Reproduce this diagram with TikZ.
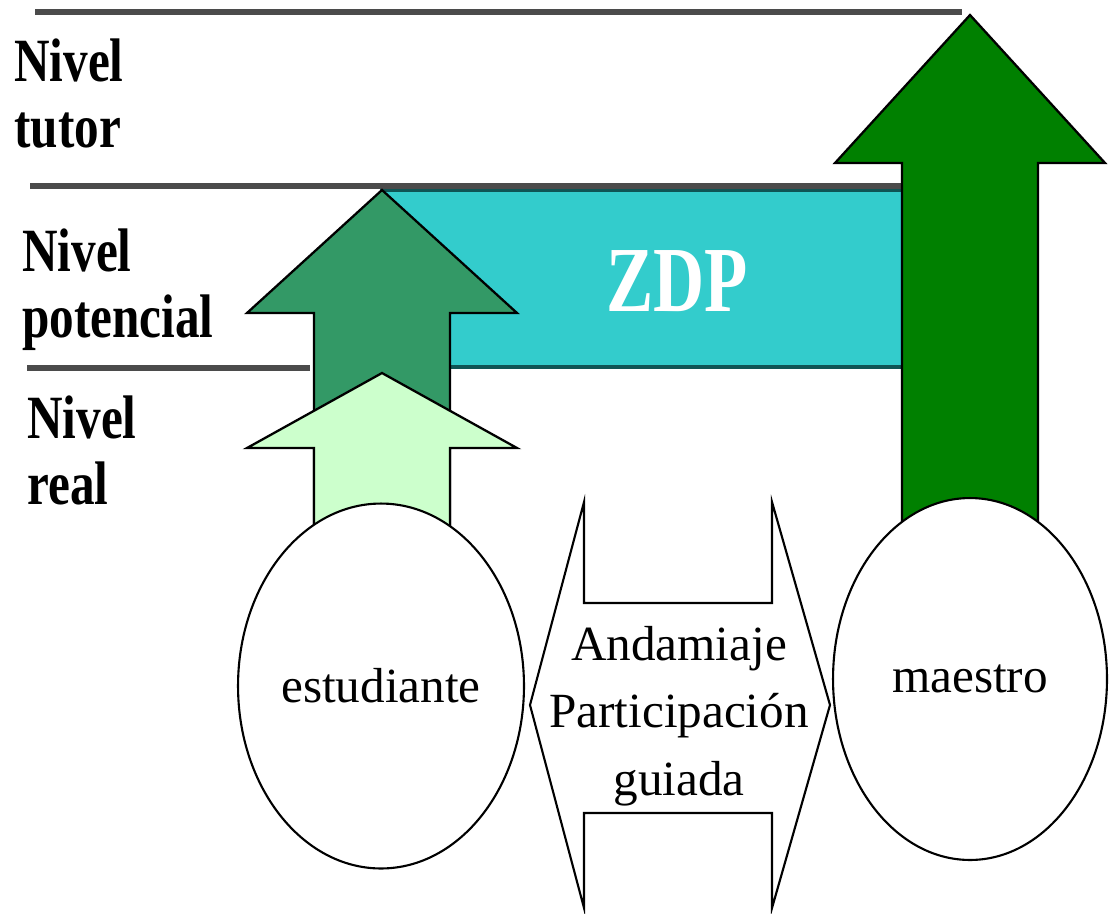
\documentclass[tikz,border=0pt]{standalone}
\usepackage{fontspec}
\setmainfont{Liberation Serif}
\newfontfamily\nivelfont[FakeStretch=0.8]{Liberation Serif}
\newfontfamily\zdpfont[FakeStretch=0.76]{Liberation Serif}
\usetikzlibrary{shapes.geometric}

\definecolor{zdpcyan}{RGB}{51,204,204}
\definecolor{zdpedge}{RGB}{15,85,85}
\definecolor{potgreen}{RGB}{51,153,102}
\definecolor{realgreen}{RGB}{204,255,204}
\definecolor{tutgreen}{RGB}{0,128,0}
\definecolor{levelgray}{RGB}{75,75,75}

\begin{document}
\begin{tikzpicture}[x=0.02cm,y=-0.02cm,
  nivel/.style={anchor=north west,inner sep=0pt,align=left,
    font={\nivelfont\bfseries\fontsize{35}{38}\selectfont}},
  nivelline/.style={levelgray,line width=3.4pt},
  zdp/.style={fill=zdpcyan,draw=zdpedge,line width=2.2pt},
  zdptext/.style={white,inner sep=0pt,font={\zdpfont\bfseries\fontsize{53}{53}\selectfont}},
  bloque/.style={draw=black,line width=1.3pt,line join=miter},
  persona/.style={ellipse,draw,fill=white,line width=1.2pt,inner sep=0pt,
    font=\fontsize{28}{30}\selectfont},
  andamio/.style={draw=black,fill=white,line width=1.2pt},
  andamiotext/.style={align=center,inner sep=0pt,font=\fontsize{28}{38.5}\selectfont}]

\useasboundingbox (0,0) rectangle (1114,913);

% zona de desarrollo proximo
\coordinate (zdpNW) at (382,190);
\coordinate (zdpSE) at (903,367);
\filldraw[zdp] (zdpNW) rectangle (zdpSE);
\node[zdptext] (zdp) at (677,281) {ZDP};

% niveles
\coordinate (tutorL) at (35,12);
\coordinate (tutorR) at (962,12);
\coordinate (potL) at (30,186);
\coordinate (potR) at (903,186);
\coordinate (realL) at (27,368);
\coordinate (realR) at (310,368);
\foreach \a/\b in {tutorL/tutorR, potL/potR, realL/realR}
	\draw[nivelline] (\a) -- (\b);

\node[nivel] (tutor) at (14,38) {Nivel\\tutor};
\node[nivel] (potencial) at (22,228) {Nivel\\potencial};
\node[nivel] (real) at (27,395) {Nivel\\real};

% flechas hacia arriba
\foreach \cx/\ty/\by/\col in {382/190/313/potgreen, 382/373/448/realgreen, 970/15/163/tutgreen}
	{
	\coordinate (tip) at (\cx,\ty);
	\filldraw[bloque,fill=\col] (tip)
		-- (\cx+135,\by) -- (\cx+68,\by) -- (\cx+68,560)
		-- (\cx-68,560) -- (\cx-68,\by) -- (\cx-135,\by) -- cycle;
	}

% estudiante y maestro
\node[persona,minimum width=5.72cm,minimum height=7.3cm] (estudiante) at (381,686) {estudiante};
\node[persona,minimum width=5.48cm,minimum height=7.24cm] (maestro) at (970,679) {maestro};

% andamiaje
\filldraw[andamio] (530,705) -- (584,502) -- (584,603) -- (772,603) -- (772,502)
	-- (830,705) -- (772,908) -- (772,813) -- (584,813) -- (584,908) -- cycle;
\node[andamiotext] (andamiaje) at (679,716) {Andamiaje\\Participación\\guiada};

\end{tikzpicture}
\end{document}
